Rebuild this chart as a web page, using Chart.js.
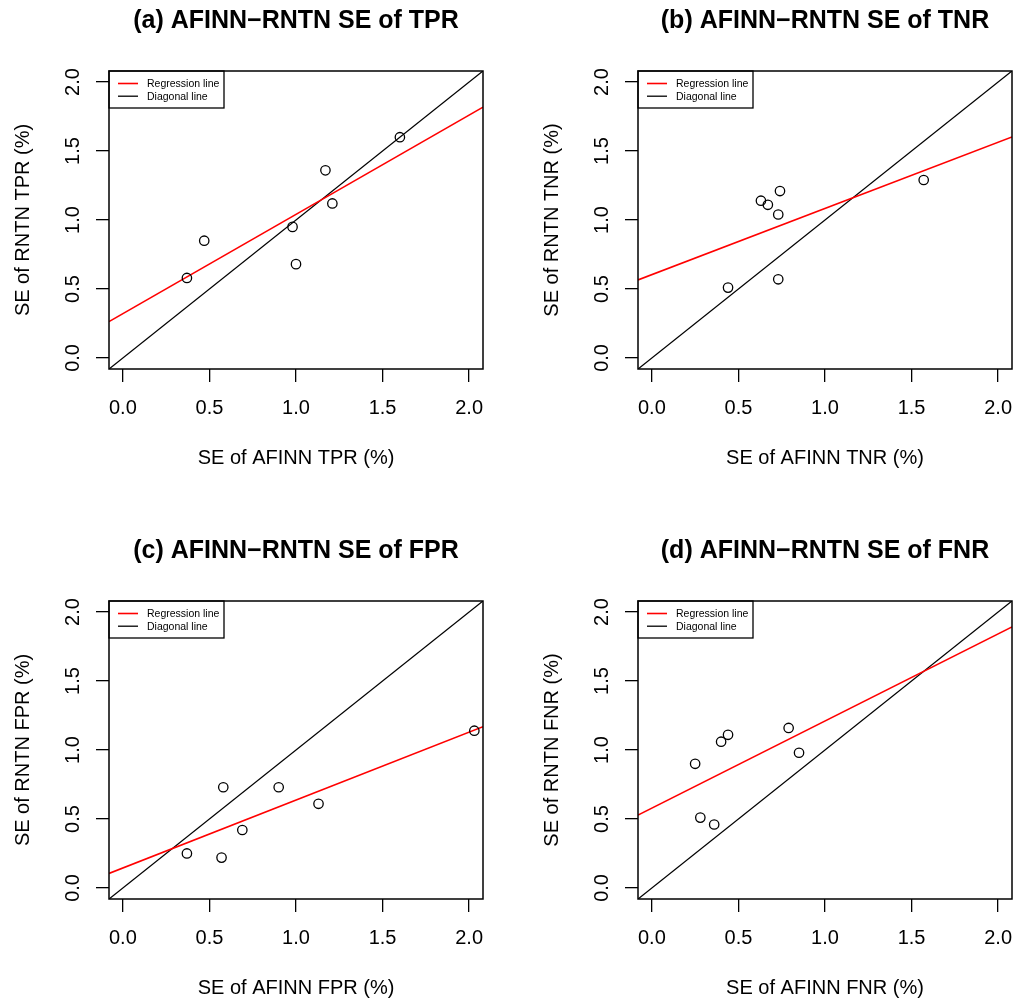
<!DOCTYPE html>
<html>
<head>
<meta charset="utf-8">
<title>AFINN-RNTN SE</title>
<script src="https://cdn.jsdelivr.net/npm/chart.js@4.4.1/dist/chart.umd.min.js"></script>
<style>
  html, body { margin: 0; padding: 0; background: #fff; }
  #wrap { position: relative; width: 1019px; height: 1003px; overflow: hidden; }
  #wrap canvas { position: absolute; }
</style>
</head>
<body>
<div id="wrap">
  <canvas id="tpr" width="490" height="473" style="left:0;top:0"></canvas>
  <canvas id="tnr" width="490" height="473" style="left:529px;top:0"></canvas>
  <canvas id="fpr" width="490" height="473" style="left:0;top:530px"></canvas>
  <canvas id="fnr" width="490" height="473" style="left:529px;top:530px"></canvas>
</div>
<script>
// standard errors (%) per data set, AFINN on x, RNTN on y
const tprAfinn = [0.37, 0.47, 0.98, 1.00, 1.17, 1.21, 1.60];
const tprRntn  = [0.58, 0.85, 0.95, 0.68, 1.36, 1.12, 1.60];
const tnrAfinn = [0.44, 0.63, 0.67, 0.73, 0.74, 0.73, 1.57];
const tnrRntn  = [0.51, 1.14, 1.11, 1.04, 1.21, 0.57, 1.29];
const fprAfinn = [0.37, 0.57, 0.58, 0.69, 0.90, 1.13, 2.03];
const fprRntn  = [0.25, 0.22, 0.73, 0.42, 0.73, 0.61, 1.14];
const fnrAfinn = [0.25, 0.28, 0.36, 0.40, 0.44, 0.79, 0.85];
const fnrRntn  = [0.90, 0.51, 0.46, 1.06, 1.11, 1.16, 0.98];

const axisTicks = [0, 0.5, 1, 1.5, 2];
const axisMin = -0.08;
const axisMax = 2.08;

const FONT = '"Liberation Sans", Arial, Helvetica, sans-serif';
Chart.defaults.font.family = FONT;
Chart.defaults.color = '#000';

// ordinary least squares, like abline(lm(y ~ x))
function leastSquares(xs, ys) {
  const n = xs.length;
  const mx = xs.reduce((a, b) => a + b, 0) / n;
  const my = ys.reduce((a, b) => a + b, 0) / n;
  let sxy = 0, sxx = 0;
  for (let i = 0; i < n; i++) {
    sxy += (xs[i] - mx) * (ys[i] - my);
    sxx += (xs[i] - mx) * (xs[i] - mx);
  }
  const slope = sxy / sxx;
  return { slope, intercept: my - slope * mx };
}

// box around the plot region plus the small legend in its top-left corner
const frameAndLegend = {
  id: 'frameAndLegend',
  afterDraw(chart) {
    const { ctx, chartArea: a } = chart;
    ctx.save();
    ctx.strokeStyle = '#000';
    ctx.lineWidth = 1.5;
    ctx.strokeRect(a.left, a.top, a.right - a.left, a.bottom - a.top);

    const lines = chart.data.datasets.filter(d => d.showLine);
    ctx.lineWidth = 1.3;
    ctx.strokeRect(a.left, a.top, 115, 37);
    ctx.font = '10.5px ' + FONT;
    ctx.textBaseline = 'middle';
    ctx.fillStyle = '#000';
    lines.forEach((d, i) => {
      const y = a.top + 12.5 + i * 12.7;
      ctx.strokeStyle = d.borderColor;
      ctx.lineWidth = d.borderWidth;
      ctx.beginPath();
      ctx.moveTo(a.left + 9, y);
      ctx.lineTo(a.left + 29, y);
      ctx.stroke();
      ctx.fillText(d.label, a.left + 38, y + 0.5);
    });
    ctx.restore();
  }
};

function makePanel(id, title, rate, xs, ys) {
  const fit = leastSquares(xs, ys);
  const ends = [axisMin, axisMax];
  const tickFont = { size: 20, family: FONT };

  new Chart(document.getElementById(id), {
    type: 'scatter',
    data: {
      datasets: [
        {
          label: 'SE',
          data: xs.map((x, i) => ({ x, y: ys[i] })),
          pointRadius: 4.7,
          pointHoverRadius: 4.7,
          pointBorderWidth: 1.3,
          pointBorderColor: '#000',
          pointBackgroundColor: 'rgba(0,0,0,0)'
        },
        {
          label: 'Regression line',
          data: ends.map(x => ({ x, y: fit.intercept + fit.slope * x })),
          showLine: true,
          borderColor: '#ff0000',
          borderWidth: 1.6,
          pointRadius: 0
        },
        {
          label: 'Diagonal line',
          data: ends.map(x => ({ x, y: x })),
          showLine: true,
          borderColor: '#000',
          borderWidth: 1.3,
          pointRadius: 0
        }
      ]
    },
    options: {
      responsive: false,
      animation: false,
      events: [],
      layout: { padding: { left: 0, right: 7, top: 0, bottom: 0 } },
      plugins: {
        legend: { display: false },
        tooltip: { enabled: false },
        title: {
          display: true,
          text: title,
          fullSize: false,
          color: '#000',
          font: { size: 25, weight: 'bold', family: FONT, lineHeight: 1.2 },
          padding: { top: 6, bottom: 35 }
        }
      },
      scales: {
        x: {
          type: 'linear',
          min: axisMin,
          max: axisMax,
          afterBuildTicks: s => { s.ticks = axisTicks.map(v => ({ value: v })); },
          afterFit: s => { s.height = 104; s.paddingLeft = 0; s.paddingRight = 0; },
          border: { display: false },
          grid: { drawOnChartArea: false, drawTicks: true, tickLength: 13, color: '#000', lineWidth: 1.3 },
          ticks: { font: tickFont, color: '#000', padding: 14, maxRotation: 0, autoSkip: false,
                   callback: v => v.toFixed(1) },
          title: { display: true, text: 'SE of AFINN ' + rate + ' (%)', color: '#000',
                   font: { size: 20, family: FONT, lineHeight: 1.2 }, padding: { top: 0, bottom: 3 } }
        },
        y: {
          type: 'linear',
          min: axisMin,
          max: axisMax,
          afterBuildTicks: s => { s.ticks = axisTicks.map(v => ({ value: v })); },
          afterFit: s => { s.width = 109; s.paddingTop = 0; s.paddingBottom = 0; },
          border: { display: false },
          grid: { drawOnChartArea: false, drawTicks: true, tickLength: 13, color: '#000', lineWidth: 1.3 },
          ticks: { font: tickFont, color: '#000', padding: 9, minRotation: 90, maxRotation: 90,
                   crossAlign: 'center', autoSkip: false, callback: v => v.toFixed(1) },
          title: { display: true, text: 'SE of RNTN ' + rate + ' (%)', color: '#000',
                   font: { size: 20, family: FONT, lineHeight: 1.2 }, padding: { top: 11, bottom: 0 } }
        }
      }
    },
    plugins: [frameAndLegend]
  });
}

makePanel('tpr', '(a) AFINN\u2212RNTN SE of TPR', 'TPR', tprAfinn, tprRntn);
makePanel('tnr', '(b) AFINN\u2212RNTN SE of TNR', 'TNR', tnrAfinn, tnrRntn);
makePanel('fpr', '(c) AFINN\u2212RNTN SE of FPR', 'FPR', fprAfinn, fprRntn);
makePanel('fnr', '(d) AFINN\u2212RNTN SE of FNR', 'FNR', fnrAfinn, fnrRntn);
</script>
</body>
</html>
